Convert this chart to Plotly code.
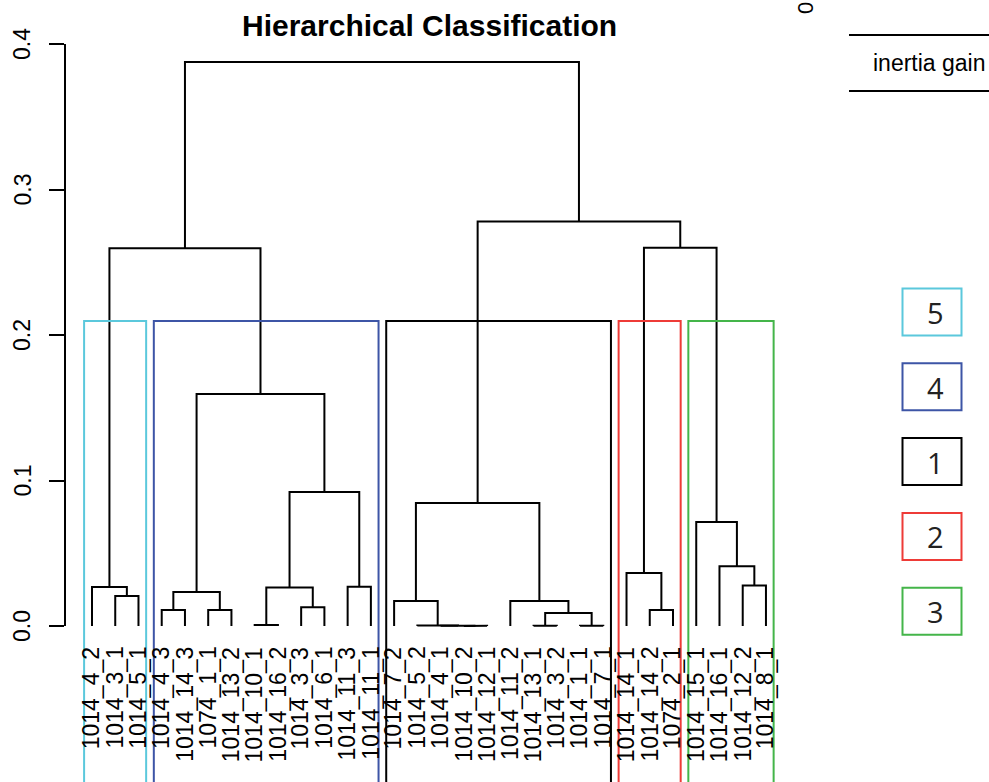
import plotly.graph_objects as go

# ---------------- data ----------------
leaf_labels = [
    "1014_4_2", "1014_3_1", "1014_5_1",
    "1014_4_3", "1014_14_3", "1074_1_1", "1014_13_2", "1014_10_1", "1014_16_2",
    "1014_3_3", "1014_6_1", "1014_11_3", "1014_11_1",
    "1014_7_2", "1014_5_2", "1014_4_1", "1014_10_2", "1014_12_1", "1014_11_2",
    "1014_13_1", "1014_3_2", "1014_1_1", "1014_7_1",
    "1014_14_1", "1014_14_2", "1074_2_1",
    "1014_15_1", "1014_16_1", "1014_12_2", "1014_8_1",
]

# merges (children are leaf labels or "m<k>", k = 1-based merge index)
merge_left = [
    "1014_3_1", "1014_4_2", "1014_4_3", "1074_1_1", "m3", "1014_10_1", "1014_3_3",
    "m6", "1014_11_3", "m8", "m5", "m2", "1014_10_2", "1014_4_1", "1014_5_2",
    "1014_7_2", "1014_13_1", "1014_1_1", "m17", "1014_11_2", "m16", "1014_14_2",
    "1014_14_1", "1014_12_2", "1014_16_1", "1014_15_1", "m23", "m21", "m12",
]
merge_right = [
    "1014_5_1", "m1", "1014_14_3", "1014_13_2", "m4", "1014_16_2", "1014_6_1",
    "m7", "1014_11_1", "m9", "m10", "m11", "1014_12_1", "m13", "m14",
    "m15", "1014_3_2", "1014_7_1", "m18", "m19", "m20", "1074_2_1",
    "m22", "1014_8_1", "m24", "m25", "m26", "m27", "m28",
]
merge_height = [
    0.0206, 0.0268, 0.0110, 0.0110, 0.0233, 0.0007, 0.0129,
    0.0265, 0.0269, 0.0921, 0.1595, 0.2597, 0.0001, 0.0002, 0.0003,
    0.0171, 0.0002, 0.0002, 0.0090, 0.0172, 0.0845, 0.0110,
    0.0365, 0.0279, 0.0411, 0.0715, 0.2600, 0.2780, 0.3876,
]

cluster_ids = [5, 4, 1, 2, 3]
cluster_sizes = [3, 10, 10, 3, 4]
cluster_colors = ["#5BC8DC", "#3D55A6", "#000000", "#EE3B37", "#44B54A"]

legend_ids = [5, 4, 1, 2, 3]

ytick_vals = [0.0, 0.1, 0.2, 0.3, 0.4]
ytick_text = ["0.0", "0.1", "0.2", "0.3", "0.4"]

title_text = "Hierarchical Classification"
inset_label = "inertia gain"

# ---------------- layout helpers ----------------
W, H = 989, 782
ML, MT, MB = 65, 30, 0
PW, PH = 735, 752
MR = W - ML - PW


def px(x):
    return (x - ML) / PW


def py(y):
    return (H - MB - y) / PH


FONT = "Liberation Sans, Arial, Helvetica, sans-serif"

# ---------------- dendrogram geometry ----------------
leaf_pos = {lab: i + 1 for i, lab in enumerate(leaf_labels)}
node_x, node_h = {}, {}
for lab in leaf_labels:
    node_x[lab] = leaf_pos[lab]
    node_h[lab] = 0.0

xs, ys = [], []
for k, (a, b, h) in enumerate(zip(merge_left, merge_right, merge_height)):
    xa, xb = node_x[a], node_x[b]
    xs += [xa, xa, xb, xb, None]
    ys += [node_h[a], h, h, node_h[b], None]
    name = "m%d" % (k + 1)
    node_x[name] = (xa + xb) / 2
    node_h[name] = h

x_range = [1 - 27 / 23.24, 1 + (800 - 92) / 23.24]
y_range = [(626 - 782) / 1455, (626 - 30) / 1455]

fig = go.Figure()
fig.add_trace(go.Scatter(x=xs, y=ys, mode="lines",
                         line=dict(color="black", width=2),
                         hoverinfo="skip", showlegend=False))

shapes = []
annotations = []

# cluster rectangles (rect.hclust style)
hs = sorted(merge_height, reverse=True)
kc = len(cluster_ids)
cut_h = (hs[kc - 2] + hs[kc - 1]) / 2
cum = 0
for size, col in zip(cluster_sizes, cluster_colors):
    shapes.append(dict(type="rect", xref="x", yref="y",
                       x0=cum + 0.66, x1=cum + size + 0.33,
                       y0=y_range[0] - 0.01, y1=cut_h,
                       line=dict(color=col, width=2), fillcolor="rgba(0,0,0,0)",
                       layer="above"))
    cum += size

# y axis line (0 .. 0.4)
shapes.append(dict(type="line", xref="paper", yref="y", x0=0, x1=0,
                   y0=ytick_vals[0], y1=ytick_vals[-1],
                   line=dict(color="black", width=2)))

# y tick labels (rotated, R style)
for v, t in zip(ytick_vals, ytick_text):
    annotations.append(dict(xref="paper", yref="y", x=px(22), y=v, text=t,
                            showarrow=False, textangle=-90,
                            xanchor="center", yanchor="middle",
                            font=dict(family=FONT, size=23, color="black")))

# leaf labels
for lab in leaf_labels:
    annotations.append(dict(xref="x", yref="y", x=leaf_pos[lab] - 0.03,
                            y=(626 - 645) / 1455, text=lab,
                            showarrow=False, textangle=-90,
                            xanchor="center", yanchor="top",
                            font=dict(family=FONT, size=23, color="black")))

# title
annotations.append(dict(xref="paper", yref="paper", x=px(429), y=py(25),
                        text="<b>%s</b>" % title_text, showarrow=False,
                        xanchor="center", yanchor="middle",
                        font=dict(family=FONT, size=30, color="black")))

# inset (cut-off inertia gain barplot)
annotations.append(dict(xref="paper", yref="paper", x=px(806), y=py(8),
                        text="0", showarrow=False, textangle=-90,
                        xanchor="center", yanchor="middle",
                        font=dict(family=FONT, size=22, color="black")))
for yy in (35, 91):
    shapes.append(dict(type="line", xref="paper", yref="paper",
                       x0=px(849), x1=px(995), y0=py(yy), y1=py(yy),
                       line=dict(color="black", width=2)))
annotations.append(dict(xref="paper", yref="paper", x=px(929), y=py(63),
                        text=inset_label, showarrow=False,
                        xanchor="center", yanchor="middle",
                        font=dict(family=FONT, size=23, color="black")))

# cluster legend boxes
col_of = dict(zip(cluster_ids, cluster_colors))
for i, cid in enumerate(legend_ids):
    top = 288.5 + i * 74.8
    shapes.append(dict(type="rect", xref="paper", yref="paper",
                       x0=px(902.5), x1=px(961.5), y0=py(top), y1=py(top + 47),
                       line=dict(color=col_of[cid], width=2),
                       fillcolor="rgba(0,0,0,0)"))
    annotations.append(dict(xref="paper", yref="paper", x=px(935), y=py(top + 24),
                            text=str(cid), showarrow=False,
                            xanchor="center", yanchor="middle",
                            font=dict(family="Open Sans, Noto Sans, sans-serif",
                                      size=29, color="#222222")))

fig.update_layout(
    width=W, height=H,
    margin=dict(l=ML, r=MR, t=MT, b=MB, pad=0),
    paper_bgcolor="white", plot_bgcolor="white",
    showlegend=False,
    xaxis=dict(range=x_range, showgrid=False, zeroline=False, showline=False,
               showticklabels=False, ticks="", fixedrange=True),
    yaxis=dict(range=y_range, showgrid=False, zeroline=False, showline=False,
               tickmode="array", tickvals=ytick_vals, showticklabels=False,
               ticks="outside", ticklen=15, tickwidth=2, tickcolor="black",
               fixedrange=True),
    shapes=shapes,
    annotations=annotations,
)

fig.write_html("out.html", config={"displayModeBar": False},
               post_script="document.body.style.margin='0';"
                           "document.body.style.padding='0';"
                           "document.body.style.overflow='hidden';")
